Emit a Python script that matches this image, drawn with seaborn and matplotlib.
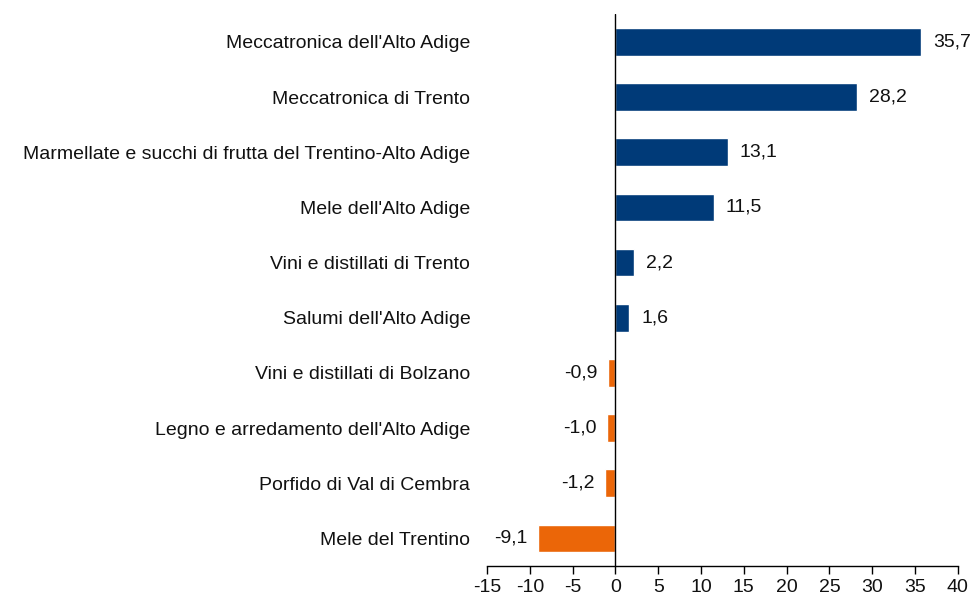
import numpy as np
import pandas as pd
import seaborn as sns
import matplotlib.pyplot as plt

categories = [
    "Meccatronica dell'Alto Adige",
    "Meccatronica di Trento",
    "Marmellate e succhi di frutta del Trentino-Alto Adige",
    "Mele dell'Alto Adige",
    "Vini e distillati di Trento",
    "Salumi dell'Alto Adige",
    "Vini e distillati di Bolzano",
    "Legno e arredamento dell'Alto Adige",
    "Porfido di Val di Cembra",
    "Mele del Trentino",
]
values = [35.7, 28.2, 13.1, 11.5, 2.2, 1.6, -0.9, -1.0, -1.2, -9.1]
x_ticks = [-15, -10, -5, 0, 5, 10, 15, 20, 25, 30, 35, 40]

BLUE = "#003A78"
ORANGE = "#EB6608"

df = pd.DataFrame({"categoria": categories, "valore": values})
df["segno"] = np.where(df["valore"] >= 0, "pos", "neg")

sns.set_theme(style="white")
plt.rcParams["font.family"] = ["Liberation Sans", "DejaVu Sans"]

fig = plt.figure(figsize=(9.73, 5.98), dpi=100)
ax = fig.add_axes([0.5005, 0.0535, 0.484, 0.9225])

sns.barplot(data=df, y="categoria", x="valore", hue="segno",
            palette={"pos": BLUE, "neg": ORANGE}, width=0.5,
            dodge=False, legend=False, saturation=1, ax=ax)

ax.set_xlim(-15, 40)
ax.set_xticks(x_ticks)
ax.set_xticklabels([str(t) for t in x_ticks], fontsize=14)
ax.set_xlabel("")
ax.set_ylabel("")
ax.tick_params(axis="y", length=0, pad=12, labelsize=14, labelcolor="#111111")
ax.tick_params(axis="x", length=6, width=1, direction="out", bottom=True,
               color="black", pad=3, labelcolor="#111111")

for s in ["top", "right", "left"]:
    ax.spines[s].set_visible(False)
ax.spines["bottom"].set_color("black")
ax.spines["bottom"].set_linewidth(1)
ax.axvline(0, color="black", linewidth=1, zorder=3)

for i, v in enumerate(values):
    label = f"{v:.1f}".replace(".", ",")
    if v >= 0:
        ax.text(v + 1.4, i, label, ha="left", va="center", fontsize=14, color="#111111")
    else:
        ax.text(v - 1.2, i, label, ha="right", va="center", fontsize=14, color="#111111")

fig.savefig("out.png", dpi=100)
